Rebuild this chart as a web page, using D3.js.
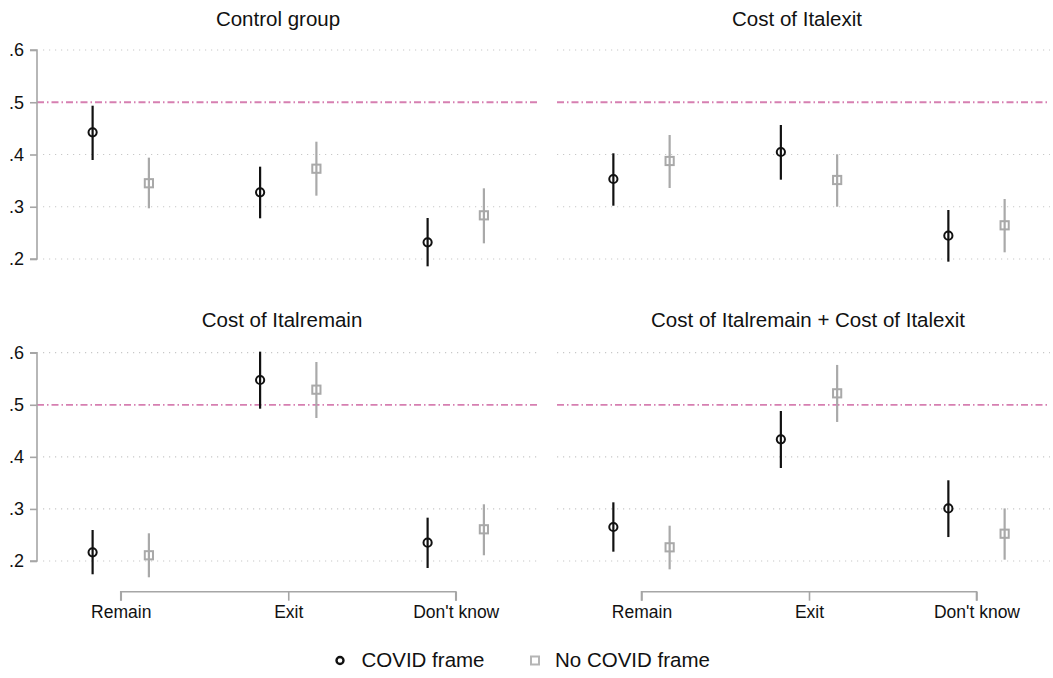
<!DOCTYPE html>
<html>
<head>
<meta charset="utf-8">
<script src="https://cdn.jsdelivr.net/npm/d3@7"></script>
<style>
  html, body { margin: 0; padding: 0; background: #fff; }
  svg { display: block; font-family: "Liberation Sans", Arial, Helvetica, sans-serif; }
</style>
</head>
<body>
<svg id="chart" width="1053" height="678"></svg>
<script>
// Predicted probabilities by treatment, with 95% confidence intervals
const categories = ["Remain", "Exit", "Don't know"];
const panelTitles = ["Control group", "Cost of Italexit", "Cost of Italremain", "Cost of Italremain + Cost of Italexit"];
const seriesNames = ["COVID frame", "No COVID frame"];
const yTickValues = [0.2, 0.3, 0.4, 0.5, 0.6];
const yTickLabels = [".2", ".3", ".4", ".5", ".6"];
const refValue = 0.5;

// COVID frame: estimate, lower and upper bounds (one row per panel)
const covidEst = [
  [0.4425, 0.3277, 0.2320],
  [0.3531, 0.4048, 0.2446],
  [0.2167, 0.5476, 0.2352],
  [0.2653, 0.4337, 0.3010]
];
const covidLo = [
  [0.3895, 0.2779, 0.1860],
  [0.3020, 0.3518, 0.1949],
  [0.1745, 0.4925, 0.1866],
  [0.2179, 0.3786, 0.2460]
];
const covidHi = [
  [0.4934, 0.3767, 0.2785],
  [0.4023, 0.4565, 0.2938],
  [0.2595, 0.6020, 0.2832],
  [0.3127, 0.4880, 0.3550]
];

// No COVID frame
const noCovidEst = [
  [0.3450, 0.3728, 0.2836],
  [0.3876, 0.3512, 0.2645],
  [0.2110, 0.5290, 0.2609],
  [0.2263, 0.5220, 0.2524]
];
const noCovidLo = [
  [0.2970, 0.3212, 0.2300],
  [0.3359, 0.3001, 0.2128],
  [0.1687, 0.4746, 0.2110],
  [0.1840, 0.4670, 0.2025]
];
const noCovidHi = [
  [0.3940, 0.4245, 0.3353],
  [0.4373, 0.4004, 0.3148],
  [0.2532, 0.5822, 0.3089],
  [0.2678, 0.5765, 0.3010]
];

// ---- layout ----
const svg = d3.select("#chart");
const FONT_TICK = 17.5;
const BLACK = "#111";
const GREY = "#a9a9a9";
const AXIS = "#a6a6a6";
const GRID = "#c8c8c8";
const REF = "#d67fb1";

const layout = [
  { col: 0, row: 0, titleX: 278 },
  { col: 1, row: 0, titleX: 797 },
  { col: 0, row: 1, titleX: 282 },
  { col: 1, row: 1, titleX: 808 }
];
const colX = [[37, 539.5], [557.75, 1060.25]];
const colGrid = [[43, 539], [557, 1050]];
const rowY = [[259, 50], [561, 352.7]];
const titleBaseline = [26, 327];
const offset = 0.168;
const R = 4.1;      // circle marker radius
const S = 8.2;      // square marker side

const series = [
  { name: seriesNames[0], est: covidEst, lo: covidLo, hi: covidHi, color: BLACK, shape: "circle", dx: -offset },
  { name: seriesNames[1], est: noCovidEst, lo: noCovidLo, hi: noCovidHi, color: GREY, shape: "square", dx: offset }
];

layout.forEach((p, i) => {
  const x = d3.scaleLinear().domain([-0.5, 2.5]).range(colX[p.col]);
  const y = d3.scaleLinear().domain([0.2, 0.6]).range(rowY[p.row]);
  const g = svg.append("g");

  // title
  g.append("text")
    .attr("x", p.titleX).attr("y", titleBaseline[p.row])
    .attr("text-anchor", "middle")
    .attr("font-size", 20.5).attr("fill", BLACK)
    .text(panelTitles[i]);

  // dotted grid lines
  g.selectAll("line.grid").data(yTickValues.filter(v => v !== refValue)).join("line")
    .attr("class", "grid")
    .attr("x1", colGrid[p.col][0]).attr("x2", colGrid[p.col][1])
    .attr("y1", d => y(d)).attr("y2", d => y(d))
    .attr("stroke", GRID).attr("stroke-width", 1.2)
    .attr("stroke-dasharray", "1.2,4.8");

  // reference line
  g.append("line")
    .attr("x1", p.col === 0 ? colX[0][0] : colGrid[1][0]).attr("x2", colGrid[p.col][1])
    .attr("y1", y(refValue)).attr("y2", y(refValue))
    .attr("stroke", REF).attr("stroke-width", 1.8)
    .attr("stroke-dasharray", "7,3,1.5,3");

  // y axis on left column only
  if (p.col === 0) {
    const ax = g.append("g").attr("transform", `translate(${colX[0][0]},0)`)
      .call(d3.axisLeft(y).tickValues(yTickValues)
        .tickFormat((d, k) => yTickLabels[k]).tickSize(7).tickPadding(6));
    ax.select(".domain").attr("stroke", AXIS).attr("stroke-width", 1.6)
      .attr("d", `M-7,${y(0.6)}H0V${y(0.2)}H-7`);
    ax.selectAll(".tick line").attr("stroke", AXIS).attr("stroke-width", 1.6);
    ax.selectAll(".tick text").attr("font-size", 18).attr("fill", BLACK)
      .attr("font-family", "Liberation Sans, Arial, sans-serif");
  }

  // x axis on bottom row only
  if (p.row === 1) {
    const ax = g.append("g").attr("transform", "translate(0,591.7)")
      .call(d3.axisBottom(x).tickValues([0, 1, 2])
        .tickFormat(k => categories[k]).tickSize(9).tickPadding(5));
    ax.select(".domain").attr("stroke", AXIS).attr("stroke-width", 1.6)
      .attr("d", `M${x(0)},9V0H${x(2)}V9`);
    ax.selectAll(".tick line").attr("stroke", AXIS).attr("stroke-width", 1.6);
    ax.selectAll(".tick text").attr("font-size", FONT_TICK).attr("fill", BLACK)
      .attr("font-family", "Liberation Sans, Arial, sans-serif");
  }

  // confidence intervals and point estimates
  series.forEach(s => {
    const rows = categories.map((c, k) => ({ k, est: s.est[i][k], lo: s.lo[i][k], hi: s.hi[i][k] }));
    g.selectAll(null).data(rows).join("line")
      .attr("x1", d => x(d.k + s.dx)).attr("x2", d => x(d.k + s.dx))
      .attr("y1", d => y(d.lo)).attr("y2", d => y(d.hi))
      .attr("stroke", s.color).attr("stroke-width", 2.2);
    if (s.shape === "circle") {
      g.selectAll(null).data(rows).join("circle")
        .attr("cx", d => x(d.k + s.dx)).attr("cy", d => y(d.est)).attr("r", R)
        .attr("fill", "none").attr("stroke", s.color).attr("stroke-width", 2);
    } else {
      g.selectAll(null).data(rows).join("rect")
        .attr("x", d => x(d.k + s.dx) - S / 2).attr("y", d => y(d.est) - S / 2)
        .attr("width", S).attr("height", S)
        .attr("fill", "none").attr("stroke", s.color).attr("stroke-width", 2);
    }
  });
});

// legend
const legend = svg.append("g");
const legendItems = [
  { x: 340, textX: 361.5 },
  { x: 535, textX: 555 }
];
series.forEach((s, j) => {
  const it = legendItems[j];
  if (s.shape === "circle") {
    legend.append("circle").attr("cx", it.x).attr("cy", 660.5).attr("r", 3.5)
      .attr("fill", "none").attr("stroke", s.color).attr("stroke-width", 2.4);
  } else {
    legend.append("rect").attr("x", it.x - 4).attr("y", 656.5).attr("width", 8).attr("height", 8)
      .attr("fill", "none").attr("stroke", "#b5b5b5").attr("stroke-width", 2);
  }
  legend.append("text").attr("x", it.textX).attr("y", 666.5)
    .attr("font-size", 20.5).attr("fill", BLACK).text(s.name);
});
</script>
</body>
</html>
